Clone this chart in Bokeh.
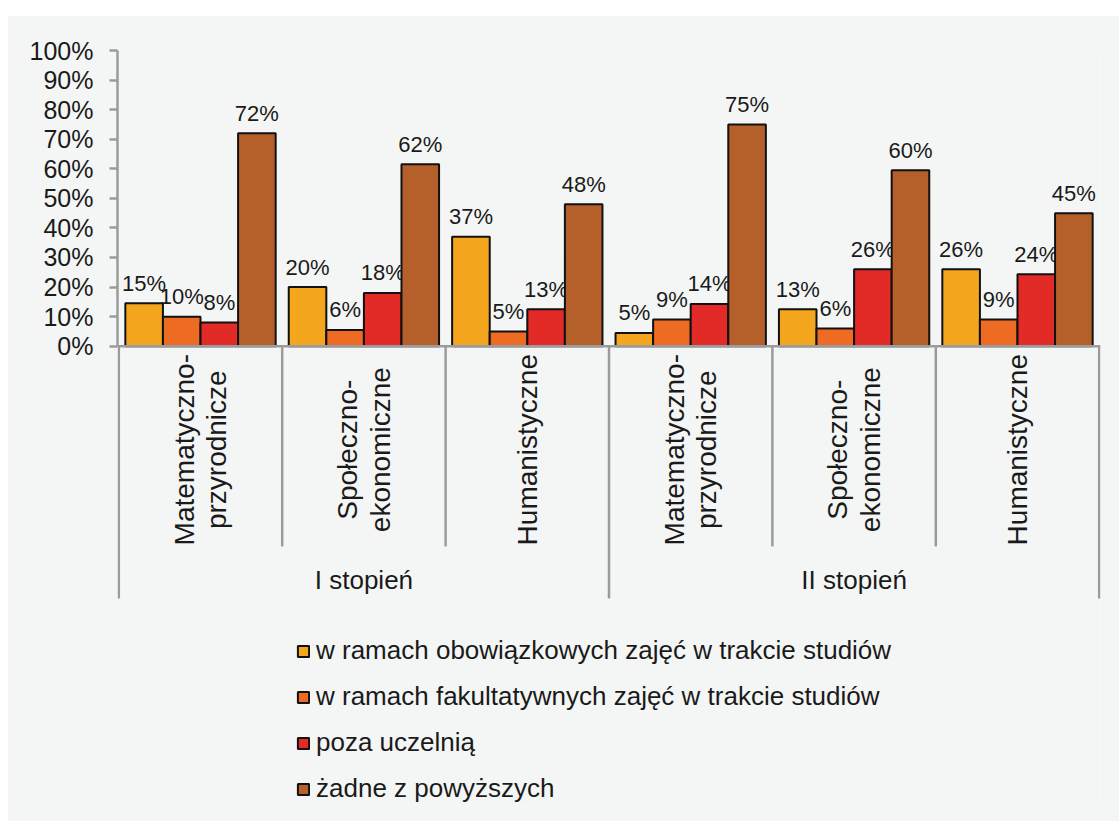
import numpy as np
from bokeh.plotting import figure
from bokeh.models import (ColumnDataSource, FixedTicker, NumeralTickFormatter, Span,
                          Legend, LegendItem, Range1d, Spacer)
from bokeh.layouts import column, row
from bokeh.core.properties import value
from bokeh.embed import file_html
from bokeh.resources import INLINE

# ---------------- data ----------------
levels = ["I stopień", "II stopień"]
fields = ["Matematyczno-\nprzyrodnicze", "Społeczno-\nekonomiczne", "Humanistyczne"]
series = ["w ramach obowiązkowych zajęć w trakcie studiów",
          "w ramach fakultatywnych zajęć w trakcie studiów",
          "poza uczelnią",
          "żadne z powyższych"]
# order: I stopień (Mat, Społ, Hum), II stopień (Mat, Społ, Hum)  [%]
obowiazkowe = [14.5, 20, 37, 4.5, 12.5, 26]
fakultatywne = [10, 5.5, 5, 9, 6, 9]
poza_uczelnia = [8, 18, 12.5, 14.3, 26, 24.3]
zadne = [72, 61.5, 48, 75, 59.5, 45]
y_ticks = [0, 0.1, 0.2, 0.3, 0.4, 0.5, 0.6, 0.7, 0.8, 0.9, 1.0]

# ---------------- style ----------------
colors = ["#F5A61F", "#EE6B23", "#E22A26", "#B5602A"]
BG = "#f4f6f5"
AX = "#9b9b9b"
FONT = value("Liberation Sans")
TXT = "#1a1a1a"

all_values = [obowiazkowe, fakultatywne, poza_uczelnia, zadne]
n_groups = len(levels) * len(fields)
bar_w = 0.23

PX_PER_UNIT = 295.7
W, H = 1112, 806
TOP, BOTTOM, LEFT, RIGHT = 35, 16, 110, 19
frame_h = H - TOP - BOTTOM
y0 = 1 - frame_h / PX_PER_UNIT

p = figure(width=W, height=H, x_range=Range1d(-0.008, 6.008), y_range=Range1d(y0, 1.0),
           x_axis_type=None, output_backend="svg", toolbar_location=None,
           min_border_left=LEFT, min_border_right=RIGHT, min_border_top=TOP,
           min_border_bottom=BOTTOM,
           background_fill_color=BG, border_fill_color=BG, outline_line_color=None)
p.ygrid.visible = False

# bars
renderers = []
for k, vals in enumerate(all_values):
    off = (k - 1.5) * bar_w
    src = ColumnDataSource(dict(
        x=[g + 0.5 + off for g in range(n_groups)],
        top=[v / 100 for v in vals],
        label=[f"{int(v + 0.5)}%" for v in vals],
    ))
    r = p.vbar(x="x", top="top", bottom=0, width=bar_w, source=src,
               fill_color=colors[k], line_color="#111111", line_width=2)
    renderers.append(r)
    p.text(x="x", y="top", text="label", source=src, y_offset=-20,
           text_align="center", text_baseline="alphabetic",
           text_font=FONT, text_font_size="22px", text_color=TXT)

# x-axis baseline
p.add_layout(Span(location=0, dimension="width", line_color=AX, line_width=2.5))

# category separators
cat_x = [g for g in range(n_groups + 1) if g % len(fields) != 0]
grp_x = [g for g in range(n_groups + 1) if g % len(fields) == 0]
p.segment(x0=cat_x, y0=[0] * len(cat_x), x1=cat_x, y1=[-0.677] * len(cat_x),
          line_color=AX, line_width=2.5)
p.segment(x0=grp_x, y0=[0] * len(grp_x), x1=grp_x, y1=[-0.853] * len(grp_x),
          line_color=AX, line_width=2.5)

# category labels (rotated)
cat_src = ColumnDataSource(dict(x=[g + 0.5 for g in range(n_groups)],
                                y=[-0.35] * n_groups,
                                t=fields * len(levels)))
p.text(x="x", y="y", text="t", source=cat_src, angle=np.pi / 2,
       text_align="center", text_baseline="middle", text_line_height=1.05,
       text_font=FONT, text_font_size="28px", text_color=TXT)

# group labels
grp_src = ColumnDataSource(dict(x=[i * len(fields) + len(fields) / 2 for i in range(len(levels))],
                                y=[-0.792] * len(levels), t=levels))
p.text(x="x", y="y", text="t", source=grp_src, text_align="center", text_baseline="middle",
       text_font=FONT, text_font_size="26px", text_color=TXT)

# y axis
ya = p.yaxis[0]
ya.bounds = (0, 1)
ya.ticker = FixedTicker(ticks=y_ticks)
ya.formatter = NumeralTickFormatter(format="0%")
ya.axis_line_color = AX
ya.axis_line_width = 2.5
ya.major_tick_line_color = AX
ya.major_tick_line_width = 2.5
ya.major_tick_out = 8
ya.major_tick_in = 0
ya.minor_tick_line_color = None
ya.major_label_standoff = 16
ya.major_label_text_font = "Liberation Sans"
ya.major_label_text_font_size = "25px"
ya.major_label_text_color = TXT

# legend
legend = Legend(items=[LegendItem(label=s, renderers=[r]) for s, r in zip(series, renderers)],
                location=(179, 1), orientation="vertical",
                glyph_width=14, glyph_height=14, label_height=30, spacing=15,
                label_standoff=6, padding=0, margin=0,
                background_fill_alpha=0, border_line_color=None,
                label_text_font="Liberation Sans", label_text_font_size="26px",
                label_text_color=TXT)
p.add_layout(legend, "center")

layout = row(Spacer(width=7, height=10),
             column(Spacer(width=W, height=15), p))
open("out.html", "w").write(file_html(layout, INLINE))
